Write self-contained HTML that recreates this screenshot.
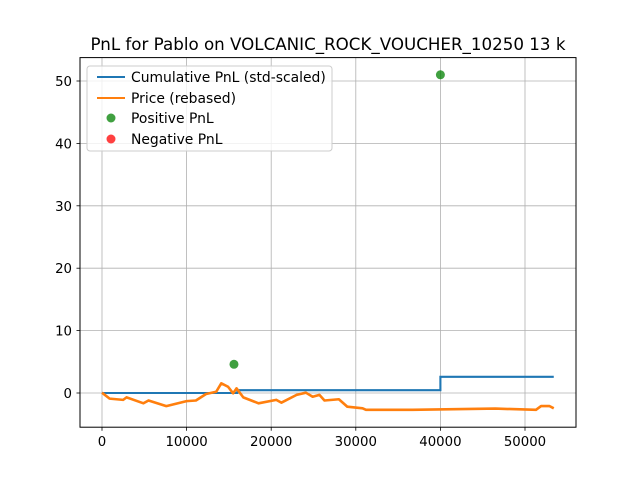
<!DOCTYPE html>
<html><head><meta charset="utf-8"><style>
body{margin:0;background:#fff;}
svg{display:block;font-family:"DejaVu Sans","Liberation Sans",sans-serif;}
</style></head><body>
<svg id="chart" width="640" height="480" xmlns="http://www.w3.org/2000/svg">
<rect width="640" height="480" fill="#fff"/>
<text x="328" y="50" font-size="16.7" text-anchor="middle">PnL for Pablo on VOLCANIC_ROCK_VOUCHER_10250 13 k</text>
<g id="grid"></g>
<g id="series"></g>
<rect x="80" y="57.6" width="496" height="369.6" fill="none" stroke="#000" stroke-width="1"/>
<g id="ticks"></g>
<g>
<rect x="87" y="66" width="245" height="85" rx="3" fill="#fff" fill-opacity="0.8" stroke="#ccc"/>
<line x1="97" y1="77" x2="125" y2="77" stroke="#1f77b4" stroke-width="2"/>
<text x="131" y="82" font-size="13.9">Cumulative PnL (std-scaled)</text>
<line x1="97" y1="98" x2="125" y2="98" stroke="#ff7f0e" stroke-width="2"/>
<text x="131" y="103" font-size="13.9">Price (rebased)</text>
<circle cx="111" cy="118" r="4.5" fill="green" fill-opacity="0.75"/>
<text x="131" y="123" font-size="13.9">Positive PnL</text>
<circle cx="111" cy="139" r="4.5" fill="red" fill-opacity="0.75"/>
<text x="131" y="144" font-size="13.9">Negative PnL</text>
</g>
</svg>
<script>
const xTicks=[0,10000,20000,30000,40000,50000];
const yTicks=[0,10,20,30,40,50];
const cumX=[0,16000,16000,40000,40000,53400];
const cumY=[0,0,0.45,0.45,2.6,2.6];
const priceX=[0,900,2500,2900,4900,5500,7600,10000,11100,12300,13500,14100,14900,15500,15900,16700,18500,20600,21200,23000,24100,24900,25700,26300,28000,29000,30800,31200,36700,46500,51300,51900,52900,53400];
const priceY=[0.05,-0.9,-1.1,-0.7,-1.65,-1.2,-2.1,-1.3,-1.2,-0.16,0.2,1.55,1.0,-0.05,0.75,-0.7,-1.65,-1.1,-1.55,-0.3,0.05,-0.6,-0.3,-1.2,-1.0,-2.2,-2.45,-2.7,-2.7,-2.5,-2.7,-2.1,-2.1,-2.45];
const posX=[15600,40000];
const posY=[4.6,51.0];
const negX=[];const negY=[];
const NS="http://www.w3.org/2000/svg";
function sx(v){return 102+(v)*0.00846;}
function sy(v){return 393-v*6.24;}
function mk(t,a,p){const e=document.createElementNS(NS,t);for(const k in a)e.setAttribute(k,a[k]);p.appendChild(e);return e;}
const grid=document.getElementById('grid'),ticks=document.getElementById('ticks'),ser=document.getElementById('series');
xTicks.forEach(t=>{const x=sx(t);
const g=mk('line',{x1:x,x2:x,y1:57.6,y2:427.2,stroke:'#b0b0b0','stroke-width':0.8},grid);


mk('line',{x1:x,x2:x,y1:427.2,y2:430.7,stroke:'#000','stroke-width':0.8},ticks);
const l=mk('text',{x:x,y:446,'font-size':13.3,'text-anchor':'middle'},ticks);l.textContent=t;

});
yTicks.forEach(t=>{const y=sy(t);
const g=mk('line',{x1:80,x2:576,y1:y,y2:y,stroke:'#b0b0b0','stroke-width':0.8},grid);


mk('line',{x1:76.5,x2:80,y1:y,y2:y,stroke:'#000','stroke-width':0.8},ticks);
const l=mk('text',{x:72,y:y+5,'font-size':13.3,'text-anchor':'end'},ticks);l.textContent=t;

});
const c=mk('polyline',{points:cumX.map((x,i)=>sx(x)+','+sy(cumY[i])).join(' '),fill:'none',stroke:'#1f77b4','stroke-width':2.1},ser);


const p=mk('polyline',{points:priceX.map((x,i)=>sx(x)+','+sy(priceY[i])).join(' '),fill:'none',stroke:'#ff7f0e','stroke-width':2.6,'stroke-linejoin':'round'},ser);


posX.forEach((x,i)=>{const d=mk('circle',{cx:sx(x),cy:sy(posY[i]),r:4.5,fill:'green','fill-opacity':0.75},ser);

});
negX.forEach((x,i)=>{const d=mk('circle',{cx:sx(x),cy:sy(negY[i]),r:4.5,fill:'red','fill-opacity':0.75},ser);

});
</script>
</body></html>
